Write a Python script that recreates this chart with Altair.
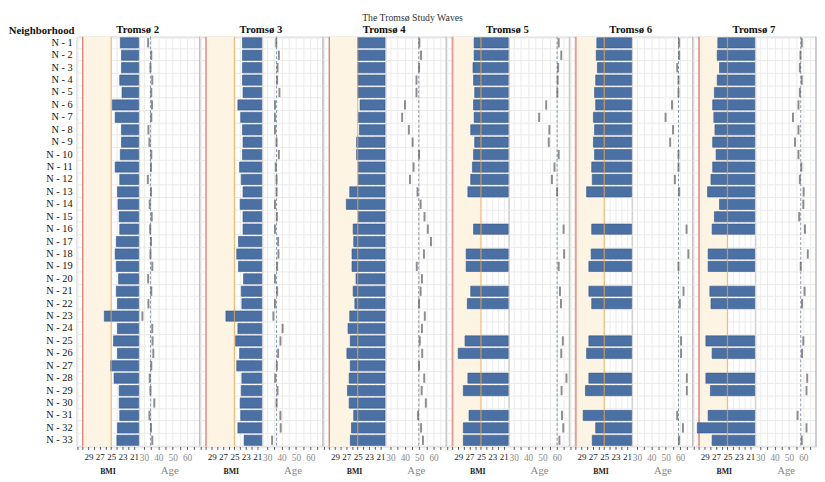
import altair as alt
import pandas as pd

HOODS = [f"N - {i}" for i in range(1, 34)]
WAVES = ["Tromsø 2", "Tromsø 3", "Tromsø 4", "Tromsø 5", "Tromsø 6", "Tromsø 7"]

BMI_T2 = [23.4, 23.2, 23.2, 23.5, 23.1, 24.8, 24.3, 23.2, 23.2, 23.4, 24.3, 23.5, 23.9, 23.8, 23.6, 23.5, 24.1,
          24.3, 24.1, 23.7, 24.1, 23.9, 26.2, 23.9, 24.6, 23.9, 25.1, 24.5, 23.6, 23.6, 23.5, 23.9, 24.0]
BMI_T3 = [23.6, 23.6, 23.6, 23.6, 23.5, 24.4, 23.9, 23.6, 23.5, 23.6, 24.1, 23.8, 23.5, 24.0, 23.5, 23.5, 24.3,
          24.6, 24.3, 23.4, 23.8, 23.7, 26.5, 24.4, 24.8, 24.1, 24.6, 23.7, 23.8, 24.0, 23.9, 24.4, 23.3]
BMI_T4 = [25.0, 25.0, 25.0, 25.0, 25.0, 24.6, 24.9, 24.7, 25.2, 25.2, 24.9, 24.9, 26.4, 27.0, 24.9, 25.8, 25.7,
          26.0, 26.0, 25.3, 25.8, 25.5, 26.4, 26.7, 26.3, 26.9, 26.3, 26.5, 26.8, 26.5, 25.7, 26.1, 26.3]
BMI_T5 = [26.2, 26.2, 26.4, 26.3, 26.1, 26.3, 26.2, 26.8, 26.1, 26.3, 26.5, 26.8, 27.3, None, None, 26.3, None,
          27.6, 27.6, None, 26.8, 27.4, None, None, 27.8, 29.0, None, 27.3, 28.1, None, 27.1, 28.1, 28.1]
BMI_T6 = [26.3, 26.4, 26.2, 26.5, 26.7, 26.5, 26.9, 26.7, 26.9, 26.7, 27.2, 27.1, 28.1, None, None, 27.2, None,
          27.3, 27.7, None, 27.7, 27.2, None, None, 27.7, 28.1, None, 27.7, 28.3, None, 28.7, 26.5, 27.1]
BMI_T7 = [26.7, 26.8, 26.4, 26.8, 27.3, 27.6, 27.4, 27.2, 27.6, 27.0, 27.6, 27.9, 28.5, 26.4, 27.3, 27.7, None,
          28.4, 28.4, None, 28.1, 27.9, None, None, 28.8, 27.7, None, 28.8, 28.0, None, 28.4, 30.3, 27.7]

AGE_T2 = [32.9, 35.1, 34.5, 35.8, 35.1, 35.6, 35.1, 33.1, 33.8, 35.1, 34.9, 32.7, 34.9, 34.0, 35.4, 34.3, 34.9,
          34.5, 35.8, 32.9, 35.1, 33.1, 28.9, 35.8, 36.0, 36.5, 35.1, 34.0, 34.5, 37.2, 33.8, 34.9, 35.8]
AGE_T3 = [36.3, 38.1, 37.2, 36.9, 38.5, 35.4, 35.4, 35.4, 36.5, 38.1, 36.0, 36.5, 36.5, 35.4, 36.7, 35.4, 37.6,
          37.8, 36.9, 35.4, 36.9, 35.4, 34.3, 40.7, 39.2, 37.6, 36.7, 35.6, 37.2, 36.5, 39.2, 39.4, 33.4]
AGE_T4 = [50.1, 51.3, 49.9, 48.1, 48.1, 40.1, 38.1, 42.8, 45.4, 49.9, 46.1, 43.6, 48.8, 51.0, 53.7, 56.0, 58.2,
          53.3, 48.3, 51.9, 51.0, 49.9, 53.9, 51.9, 50.4, 52.1, 49.9, 53.5, 51.7, 54.6, 49.2, 51.3, 52.6]
AGE_T5 = [61.3, 63.1, 60.9, 60.6, 60.4, 52.6, 47.7, 54.8, 54.4, 61.3, 58.4, 56.6, 60.2, None, None, 64.7, None,
          65.1, 61.3, None, 62.2, 62.9, None, None, 64.2, 63.1, None, 66.7, 63.3, None, 63.6, 64.5, 61.8]
AGE_T6 = [59.3, 59.3, 58.0, 58.9, 58.9, 54.4, 49.9, 55.1, 53.1, 58.9, 58.9, 56.4, 59.3, None, None, 64.5, None,
          65.8, 58.9, None, 62.4, 59.8, None, None, 60.7, 60.7, None, 64.7, 64.7, None, 58.0, 62.0, 59.3]
AGE_T7 = [58.9, 58.0, 57.6, 58.9, 57.6, 56.6, 52.8, 56.6, 54.2, 56.6, 58.6, 57.6, 60.2, 60.0, 57.1, 61.1, None,
          63.1, 58.2, None, 60.9, 59.1, None, None, 60.0, 59.1, None, 62.7, 62.2, None, 56.0, 62.2, 58.9]

AGE_REF = [34.5, 36.5, 49.7, 60.2, 58.9, 58.2]

BMI = [BMI_T2, BMI_T3, BMI_T4, BMI_T5, BMI_T6, BMI_T7]
AGE = [AGE_T2, AGE_T3, AGE_T4, AGE_T5, AGE_T6, AGE_T7]

rows = []
for w, bl, al in zip(WAVES, BMI, AGE):
    for h, b, a in zip(HOODS, bl, al):
        if b is not None:
            rows.append({"wave": w, "hood": h, "bmi": b, "age": a})
df = pd.DataFrame(rows)
ONE = pd.DataFrame({"k": [0]})
HOOD_DF = pd.DataFrame({"hood": HOODS})

FONT = "Liberation Serif"
H = 419
LABEL_W = 64
BMI_W = 63.4
AGE_W = 61.8
BMI_DOMAIN = [20.2, 31.1]
AGE_DOMAIN = [26.6, 68.7]
GRID = "#ebebeb"
BAR = "#4b70a4"
BAR_EDGE = "#33578a"
CREAM = "#fdf4e4"
RED = "#dc7a70"
ORANGE = "#f0a64c"
MARK = "#5c5c5c"
REFC = "#8298b0"

Y_SCALE = alt.Scale(domain=HOODS, paddingInner=0.18, paddingOuter=0.09)
BMI_SCALE = alt.Scale(domain=BMI_DOMAIN, reverse=True, nice=False, zero=False)
AGE_SCALE = alt.Scale(domain=AGE_DOMAIN, nice=False, zero=False)


def y_enc():
    axis = alt.Axis(title=None, labels=False, ticks=False, domain=False, grid=True,
                    gridColor=GRID, tickBand="extent")
    return alt.Y("hood:N", sort=HOODS, scale=Y_SCALE, axis=axis)


bmi_axis = alt.Axis(title="BMI", values=list(range(21, 32)),
                    labelExpr="(datum.value % 2 == 1 && datum.value < 30) ? datum.label : ''",
                    labelOverlap=False, labelFlush=False,
                    grid=True, gridColor=GRID, domain=False, tickSize=3, tickColor="#555",
                    labelFontSize=9.2, labelColor="#222", labelPadding=3,
                    titleFontSize=8, titleFontWeight="bold", titleColor="#222", titlePadding=6)
age_axis = alt.Axis(title="Age", values=list(range(30, 70, 5)),
                    labelExpr="datum.value % 10 == 0 ? datum.label : ''",
                    labelOverlap=False, labelFlush=False,
                    grid=True, gridColor=GRID, domain=False, tickSize=3, tickColor="#555",
                    labelFontSize=9.5, labelColor="#8a8a8a", labelPadding=3,
                    titleFontSize=11, titleFontWeight="normal", titleColor="#888", titlePadding=3)


def bx(v):
    return alt.XDatum(v, type="quantitative", scale=BMI_SCALE, axis=bmi_axis)


def ax(v):
    return alt.XDatum(v, type="quantitative", scale=AGE_SCALE, axis=age_axis)


labels = alt.Chart(HOOD_DF).mark_text(align="right", baseline="middle", fontSize=10.5, color="#111").encode(
    y=alt.Y("hood:N", sort=HOODS, scale=Y_SCALE, axis=None),
    x=alt.value(LABEL_W - 4),
    text="hood:N",
).properties(width=LABEL_W, height=H,
             title=alt.TitleParams("Neighborhood", anchor="end", frame="group", fontSize=11,
                                   fontWeight="bold", color="#111", offset=1, dx=-2),
             view=alt.ViewBackground(stroke="transparent"))

panels = [labels]
for i, w in enumerate(WAVES):
    d = df[df["wave"] == w]
    shade = alt.Chart(ONE).mark_rect(color=CREAM).encode(
        x=bx(30), x2=alt.datum(25), y=alt.value(0), y2=alt.value(H))
    r30 = alt.Chart(ONE).mark_rule(color=RED, strokeWidth=1.3 if i < 3 else 2,
                                   opacity=1 if i < 3 else 0.7).encode(x=bx(30))
    bars = alt.Chart(d).mark_bar(fill=BAR, stroke=BAR_EDGE, strokeWidth=0.6).encode(
        x=alt.X("bmi:Q", scale=BMI_SCALE, axis=bmi_axis),
        x2=alt.datum(BMI_DOMAIN[0]),
        y=y_enc())
    r25 = alt.Chart(ONE).mark_rule(color=ORANGE, strokeWidth=1.3, opacity=0.7).encode(x=bx(25))
    bmi_chart = alt.layer(shade, r30, bars, r25).properties(
        width=BMI_W, height=H,
        title=alt.TitleParams(w, anchor="middle", frame="group", fontSize=11, fontWeight="bold",
                              color="#111", offset=1, dx=AGE_W / 2))

    ref = alt.Chart(ONE).mark_rule(color=REFC, strokeDash=[3, 2], strokeWidth=1).encode(x=ax(AGE_REF[i]))
    ticks = alt.Chart(d).mark_tick(color=MARK, thickness=2, size=9.5).encode(
        x=alt.X("age:Q", scale=AGE_SCALE, axis=age_axis),
        y=y_enc())
    edge = alt.Chart(ONE).mark_rule(color="#b8b8b8", strokeWidth=1).encode(x=alt.value(AGE_W))
    age_chart = alt.layer(ref, ticks, edge).properties(width=AGE_W, height=H)
    panels += [bmi_chart, age_chart]

chart = alt.hconcat(*panels, spacing=0, bounds="flush",
                    title=alt.TitleParams("The Tromsø Study Waves", anchor="middle", fontSize=10,
                                          fontWeight="normal", color="#333", offset=0)
                    ).resolve_scale(x="independent").properties(
    padding={"left": 0, "top": 0, "right": 0, "bottom": 0}).configure(
    font=FONT
).configure_axis(labelOverlap=False).configure_view(stroke="#d0d0d0", strokeWidth=1)

chart.save("out.html", embed_options={"renderer": "svg", "actions": False})
